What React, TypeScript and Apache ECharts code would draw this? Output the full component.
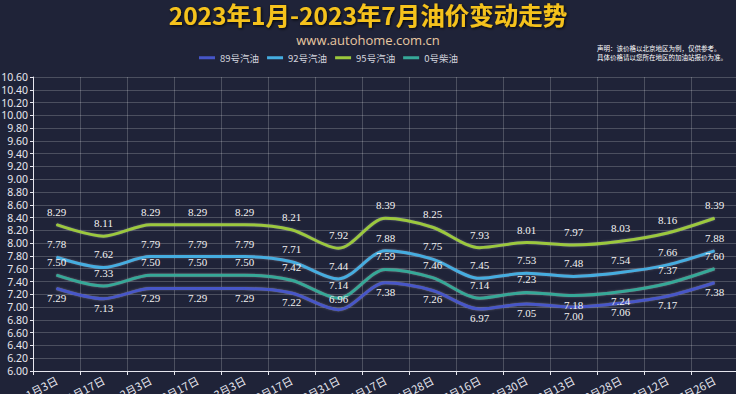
import React, { useEffect, useRef } from "react";
import * as echarts from "echarts";

const categories = ["1月3日", "1月17日", "2月3日", "2月17日", "3月3日", "3月17日", "3月31日", "4月17日", "4月28日", "5月16日", "5月30日", "6月13日", "6月28日", "7月12日", "7月26日"];
const gas89 = [7.29, 7.13, 7.29, 7.29, 7.29, 7.22, 6.96, 7.38, 7.26, 6.97, 7.05, 7.0, 7.06, 7.17, 7.38];
const gas92 = [7.78, 7.62, 7.79, 7.79, 7.79, 7.71, 7.44, 7.88, 7.75, 7.45, 7.53, 7.48, 7.54, 7.66, 7.88];
const gas95 = [8.29, 8.11, 8.29, 8.29, 8.29, 8.21, 7.92, 8.39, 8.25, 7.93, 8.01, 7.97, 8.03, 8.16, 8.39];
const diesel0 = [7.5, 7.33, 7.5, 7.5, 7.5, 7.42, 7.14, 7.59, 7.46, 7.14, 7.23, 7.18, 7.24, 7.37, 7.6];
const seriesNames = ["89号汽油", "92号汽油", "95号汽油", "0号柴油"];
const titleText = "2023年1月-2023年7月油价变动走势";
const subText = "www.autohome.com.cn";
const noteText = "声明：该价格以北京地区为例，仅供参考。\n具体价格请以您所在地区的加油站报价为准。";

export default function App() {
  const ref = useRef<HTMLDivElement>(null);
  useEffect(() => {
    if (!ref.current) return;
    const chart = echarts.init(ref.current, null, { renderer: "svg" });
    const colors = ["#4656c8", "#45ade0", "#9cc83c", "#36a898"];
    const seriesData = [gas89, gas92, gas95, diesel0];
    // label placement overrides (style, not data)
    const flip: Record<string, "top" | "bottom"> = { "0-6": "top", "3-11": "bottom", "3-12": "bottom" };
    const labelFont = { color: "#f2f2f2", fontSize: 11, fontFamily: "Liberation Serif" };
    const series = seriesData.map((arr, si) => ({
      name: seriesNames[si],
      type: "line",
      smooth: 0.3,
      symbol: "circle",
      symbolSize: 1,
      showSymbol: true,
      lineStyle: { width: 3, color: colors[si], shadowColor: "rgba(255,255,255,0.25)", shadowBlur: 2 },
      itemStyle: { color: colors[si] },
      label: {
        show: true,
        position: si === 0 ? "bottom" : "top",
        distance: si === 0 ? 3 : 7,
        formatter: (p: any) => Number(p.value).toFixed(2),
        ...labelFont,
      },
      data: arr.map((v, i) => {
        const f = flip[si + "-" + i];
        return f ? { value: v, label: { position: f, distance: f === "top" ? 5 : 3 } } : v;
      }),
    }));
    chart.setOption({
      animation: false,
      backgroundColor: "#1f2338",
      color: colors,
      title: [
        {
          text: titleText,
          left: "center",
          top: 2,
          padding: 0,
          textStyle: {
            color: "#f5c21c",
            fontSize: 24.5,
            lineHeight: 25,
            fontWeight: "bold",
            fontFamily: "Noto Sans CJK SC",
            textShadowColor: "rgba(0,0,0,0.85)",
            textShadowBlur: 3,
            textShadowOffsetX: 1,
            textShadowOffsetY: 1,
          },
        },
        {
          text: subText,
          left: "center",
          top: 33,
          padding: 0,
          textStyle: { color: "#e8c8a2", fontSize: 13, lineHeight: 13, fontWeight: "normal", fontFamily: "Open Sans" },
        },
        {
          text: noteText,
          left: 597,
          top: 44,
          padding: 0,
          textStyle: { color: "#ffffff", fontSize: 6.5, lineHeight: 8.8, fontWeight: "normal", fontFamily: "Noto Sans CJK SC" },
        },
      ],
      legend: {
        left: 194,
        top: 48,
        itemWidth: 16,
        itemHeight: 3,
        itemGap: 8,
        icon: "rect",
        data: seriesNames.map((n, i) => ({ name: n, itemStyle: { color: colors[i] } })),
        textStyle: { color: "#d4d5de", fontSize: 9.5, fontFamily: "Noto Sans CJK SC" },
      },
      grid: { left: 33, top: 77, width: 705, height: 294, containLabel: false, outerBoundsMode: "none" },
      xAxis: {
        type: "category",
        data: categories,
        boundaryGap: true,
        axisLine: { lineStyle: { color: "#e6e6ee", width: 1 } },
        axisTick: { show: true, length: 4, lineStyle: { color: "#e6e6ee" } },
        splitLine: { show: true, lineStyle: { color: "rgba(255,255,255,0.2)" } },
        axisLabel: { rotate: 28, color: "#e6e6ee", fontSize: 11, fontFamily: "Noto Sans CJK SC", margin: 8, interval: 0 },
      },
      yAxis: {
        type: "value",
        min: 6,
        max: 10.6,
        interval: 0.2,
        axisLine: { show: true, lineStyle: { color: "#e6e6ee" } },
        axisTick: { show: true, length: 3, lineStyle: { color: "#e6e6ee" } },
        splitLine: { show: true, lineStyle: { color: "rgba(255,255,255,0.2)" } },
        axisLabel: {
          color: "#e6e6ee",
          fontSize: 10.5,
          lineHeight: 12,
          fontFamily: "Noto Sans",
          margin: 5,
          formatter: (v: number) => v.toFixed(2),
        },
      },
      series,
    });
    return () => chart.dispose();
  }, []);
  return <div ref={ref} style={{ width: 736, height: 394, position: "fixed", left: 0, top: 0 }} />;
}
